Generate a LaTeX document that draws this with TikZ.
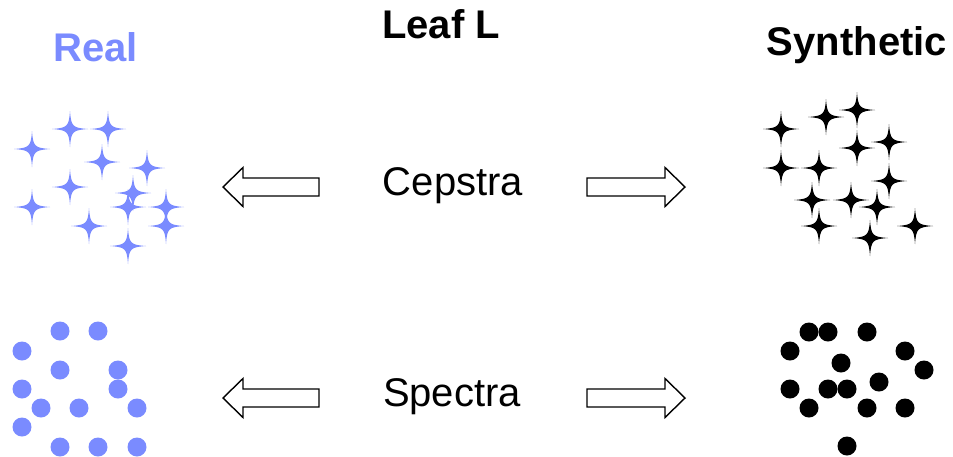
\documentclass[tikz,border=0pt]{standalone}
\usepackage{fontspec}
\setmainfont{Liberation Sans}
\definecolor{realblue}{RGB}{122,139,255}
\tikzset{
  sparkle/.pic={
    \fill (18,0) .. controls (2.5,1.2) and (1.2,2.5) .. (0,18)
          .. controls (-1.2,2.5) and (-2.5,1.2) .. (-18,0)
          .. controls (-2.5,-1.2) and (-1.2,-2.5) .. (0,-18)
          .. controls (1.2,-2.5) and (2.5,-1.2) .. (18,0) -- cycle;
  },
  blob/.pic={\fill (0,0) circle (9.5);},
  blockarrow/.style={draw=black, fill=white, line width=1.4pt, line join=miter},
  title/.style={font=\fontsize{40}{48}\selectfont\bfseries, anchor=base, inner sep=0pt},
  label/.style={font=\fontsize{40}{48}\selectfont, anchor=base, inner sep=0pt},
}
\begin{document}
\begin{tikzpicture}[x=1pt, y=-1pt]
\useasboundingbox (0,0) rectangle (953,456);

% headings
\node[title, text=realblue] (real) at (95.5,61) {Real};
\node[title] (leaf) at (441,38) {Leaf L};
\node[title] (synth) at (857,55) {Synthetic};

% row labels
\node[label] (cep) at (453,195) {Cepstra};
\node[label] (spec) at (452,406) {Spectra};

% block arrows, left and right of each row label
\foreach \cy in {187,398} {
  \draw[blockarrow] (223,\cy) -- (243,\cy-19.5) -- (243,\cy-9) -- (319,\cy-9)
        -- (319,\cy+9) -- (243,\cy+9) -- (243,\cy+19.5) -- cycle;
  \draw[blockarrow] (685,\cy) -- (665,\cy-19.5) -- (665,\cy-9) -- (587,\cy-9)
        -- (587,\cy+9) -- (665,\cy+9) -- (665,\cy+19.5) -- cycle;
}

% real cepstra: blue sparkles
\foreach \p in {(70,129),(108,129),(32,149),(102,162),(147,168),(70,187),
                (32,207),(133,193),(128,207),(166,207),(89,226),(166,226),(128,246)}
  \pic[realblue] at \p {sparkle};

% synthetic cepstra: black sparkles
\foreach \p in {(826,117),(857,110),(781,129),(857,148),(889,142),(781,168),
                (819,168),(889,181),(812,200),(851,200),(877,207),(819,226),
                (870,238),(915,226)}
  \pic[black] at \p {sparkle};

% real spectra: blue dots
\foreach \p in {(60,331),(98,331),(22,351),(60,370),(118,370),(22,389),(118,389),
                (41,408),(79,408),(137,408),(22,427),(60,447),(98,447),(137,447)}
  \pic[realblue] at \p {blob};

% synthetic spectra: black dots
\foreach \p in {(809,332),(828,332),(867,332),(790,351),(905,351),(841,363),
                (924,370),(879,382),(790,389),(828,389),(847,389),(809,408),
                (867,408),(905,408),(847,446)}
  \pic[black] at \p {blob};
\end{tikzpicture}
\end{document}
